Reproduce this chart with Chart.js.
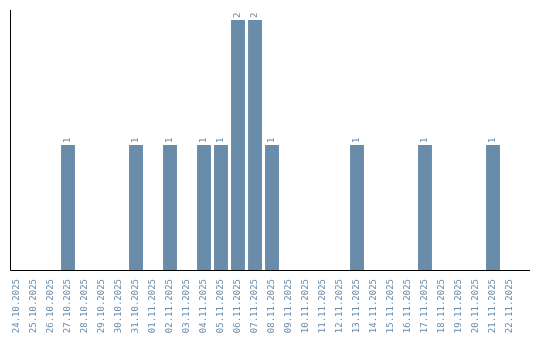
<!DOCTYPE html>
<html>
<head>
<meta charset="utf-8">
<script src="https://cdn.jsdelivr.net/npm/chart.js@4"></script>
<style>
  html, body { margin: 0; padding: 0; background: #fff; }
  canvas { display: block; }
</style>
</head>
<body>
<canvas id="chart" width="540" height="340"></canvas>
<script>
const dates = [
    '24.10.2025', '25.10.2025', '26.10.2025', '27.10.2025', '28.10.2025', '29.10.2025',
    '30.10.2025', '31.10.2025', '01.11.2025', '02.11.2025', '03.11.2025', '04.11.2025',
    '05.11.2025', '06.11.2025', '07.11.2025', '08.11.2025', '09.11.2025', '10.11.2025',
    '11.11.2025', '12.11.2025', '13.11.2025', '14.11.2025', '15.11.2025', '16.11.2025',
    '17.11.2025', '18.11.2025', '19.11.2025', '20.11.2025', '21.11.2025', '22.11.2025'
];
const counts = [
    0, 0, 0, 1, 0, 0,
    0, 1, 0, 1, 0, 1,
    1, 2, 2, 1, 0, 0,
    0, 0, 1, 0, 0, 0,
    1, 0, 0, 0, 1, 0
];

const barColor = '#6a8cab';
const monoFont = '9px "DejaVu Sans Mono", monospace';

// axis lines + rotated value labels on top of bars
const overlay = {
    id: 'overlay',
    afterDatasetsDraw(chart) {
        const ctx = chart.ctx;
        const area = chart.chartArea;
        ctx.save();
        ctx.strokeStyle = '#000';
        ctx.lineWidth = 1;
        ctx.beginPath();
        ctx.moveTo(10.5, 10);
        ctx.lineTo(10.5, area.bottom + 0.5);
        ctx.lineTo(530, area.bottom + 0.5);
        ctx.stroke();

        ctx.fillStyle = barColor;
        ctx.font = monoFont;
        ctx.textAlign = 'left';
        ctx.textBaseline = 'middle';
        chart.getDatasetMeta(0).data.forEach((bar, i) => {
            if (!counts[i]) return;
            ctx.save();
            ctx.translate(bar.x, bar.y - 2);
            ctx.rotate(-Math.PI / 2);
            ctx.fillText(String(counts[i]), 0, 0);
            ctx.restore();
        });
        ctx.restore();
    }
};

new Chart(document.getElementById('chart').getContext('2d'), {
    type: 'bar',
    data: {
        labels: dates,
        datasets: [{
            data: counts,
            backgroundColor: barColor,
            borderWidth: 0,
            barPercentage: 1,
            categoryPercentage: 0.82
        }]
    },
    options: {
        responsive: false,
        animation: false,
        layout: { padding: { left: 8.5, right: 21.5, top: 20, bottom: 0 } },
        scales: {
            x: {
                grid: { display: false, drawTicks: false },
                border: { display: false },
                afterFit: scale => { scale.height = 70; },
                ticks: {
                    autoSkip: false,
                    minRotation: 90,
                    maxRotation: 90,
                    padding: 9,
                    color: barColor,
                    font: { family: '"DejaVu Sans Mono", monospace', size: 9 }
                }
            },
            y: {
                display: false,
                min: 0,
                max: 2
            }
        },
        plugins: {
            legend: { display: false },
            tooltip: { enabled: false }
        }
    },
    plugins: [overlay]
});
</script>
</body>
</html>
